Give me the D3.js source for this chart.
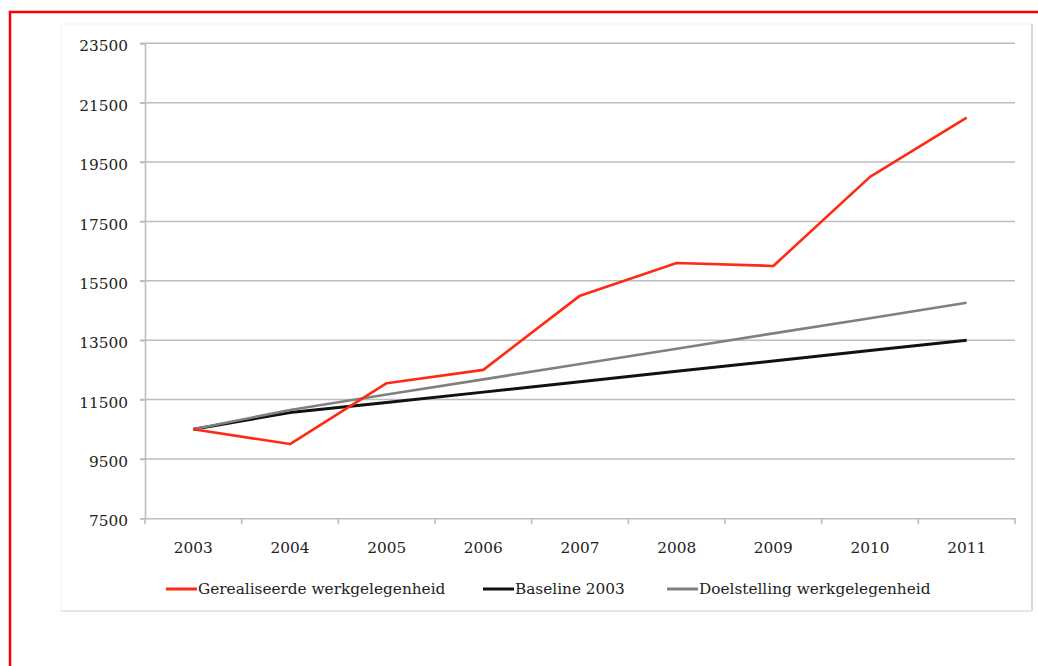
<!DOCTYPE html>
<html>
<head>
<meta charset="utf-8">
<script src="https://cdn.jsdelivr.net/npm/d3@7"></script>
<style>
  html, body { margin: 0; padding: 0; background: #fff; }
  svg { display: block; }
  text { font-family: "DejaVu Serif", Georgia, serif; fill: #222; }
</style>
</head>
<body>
<svg id="chart" width="1038" height="666"></svg>
<script>
const years = ["2003", "2004", "2005", "2006", "2007", "2008", "2009", "2010", "2011"];
const gerealiseerd = [10500, 10000, 12050, 12500, 15000, 16100, 16000, 19000, 21000];
const baseline = [10500, 11060, 11400, 11750, 12100, 12450, 12800, 13150, 13500];
const doelstelling = [10500, 11150, 11670, 12180, 12700, 13210, 13730, 14240, 14760];
const yTicks = [7500, 9500, 11500, 13500, 15500, 17500, 19500, 21500, 23500];
const seriesNames = ["Gerealiseerde werkgelegenheid", "Baseline 2003", "Doelstelling werkgelegenheid"];
const seriesColors = ["#ff2a14", "#111111", "#808080"];

const series = [gerealiseerd, baseline, doelstelling].map((v, i) => ({
  name: seriesNames[i], color: seriesColors[i], values: v
}));

const FS = 15.3;
const svg = d3.select("#chart");

// page red frame
svg.append("path")
  .attr("d", "M10,1000 L10,12 L1100,12")
  .attr("fill", "none").attr("stroke", "#ff0000").attr("stroke-width", 2.5);

// chart box
svg.append("rect").attr("x", 61).attr("y", 24).attr("width", 971).attr("height", 587)
  .attr("fill", "#fff").attr("stroke", "#f2f2f2").attr("stroke-width", 1);
svg.append("line").attr("x1", 1032).attr("x2", 1032).attr("y1", 24).attr("y2", 611)
  .attr("stroke", "#cfcfcf").attr("stroke-width", 1.5);
svg.append("line").attr("x1", 61).attr("x2", 1032).attr("y1", 611).attr("y2", 611)
  .attr("stroke", "#e0e0e0").attr("stroke-width", 1.5);

const mLeft = 145, mRight = 1015, mTop = 43.3, mBottom = 518.3;

const x = d3.scaleBand().domain(years).range([mLeft, mRight]);
const y = d3.scaleLinear().domain([7500, 23500]).range([mBottom, mTop]);

// gridlines
svg.append("g")
  .selectAll("line").data(yTicks.slice(1)).join("line")
  .attr("x1", mLeft - 5).attr("x2", mRight)
  .attr("y1", d => y(d)).attr("y2", d => y(d))
  .attr("stroke", "#bdbdbd").attr("stroke-width", 1.6);

// y axis
const yAxis = svg.append("g").attr("transform", `translate(${mLeft},0)`)
  .call(d3.axisLeft(y).tickValues(yTicks).tickSize(5).tickPadding(12).tickFormat(d3.format("d")));
yAxis.select(".domain").attr("stroke", "#bdbdbd").attr("stroke-width", 1.6);
yAxis.selectAll(".tick line").attr("stroke", "#bdbdbd").attr("stroke-width", 1.6);
yAxis.selectAll(".tick text").attr("font-size", FS).attr("dy", "0.5em")
  .style("font-family", '"DejaVu Serif", serif').attr("fill", "#222");

// x axis
const xAxis = svg.append("g").attr("transform", `translate(0,${mBottom})`)
  .call(d3.axisBottom(x).tickSize(0).tickPadding(24));
xAxis.select(".domain").attr("stroke", "#bdbdbd").attr("stroke-width", 1.6);
xAxis.selectAll(".tick text").attr("font-size", FS)
  .style("font-family", '"DejaVu Serif", serif').attr("fill", "#222");
// band boundary ticks
xAxis.append("g").selectAll("line").data(years.concat(["end"])).join("line")
  .attr("x1", (d, i) => mLeft + i * x.step()).attr("x2", (d, i) => mLeft + i * x.step())
  .attr("y1", 0).attr("y2", 6)
  .attr("stroke", "#bdbdbd").attr("stroke-width", 1.6);

// lines
const line = d3.line()
  .x((d, i) => x(years[i]) + x.bandwidth() / 2)
  .y(d => y(d));

const drawOrder = [1, 2, 0];
svg.append("g").selectAll("path").data(drawOrder.map(i => series[i])).join("path")
  .attr("d", d => line(d.values))
  .attr("fill", "none")
  .attr("stroke", d => d.color)
  .attr("stroke-width", d => d.name === "Baseline 2003" ? 3 : 2.6)
  .attr("stroke-linejoin", "round");

// legend
const legendX = [166, 483, 667];
const lg = svg.append("g").selectAll("g").data(series).join("g")
  .attr("transform", (d, i) => `translate(${legendX[i]},589)`);
lg.append("line").attr("x1", 0).attr("x2", 31).attr("y1", 0).attr("y2", 0)
  .attr("stroke", d => d.color).attr("stroke-width", 3);
lg.append("text").attr("x", 32).attr("y", 0).attr("dy", "0.35em")
  .attr("font-size", FS).text(d => d.name);
</script>
</body>
</html>
